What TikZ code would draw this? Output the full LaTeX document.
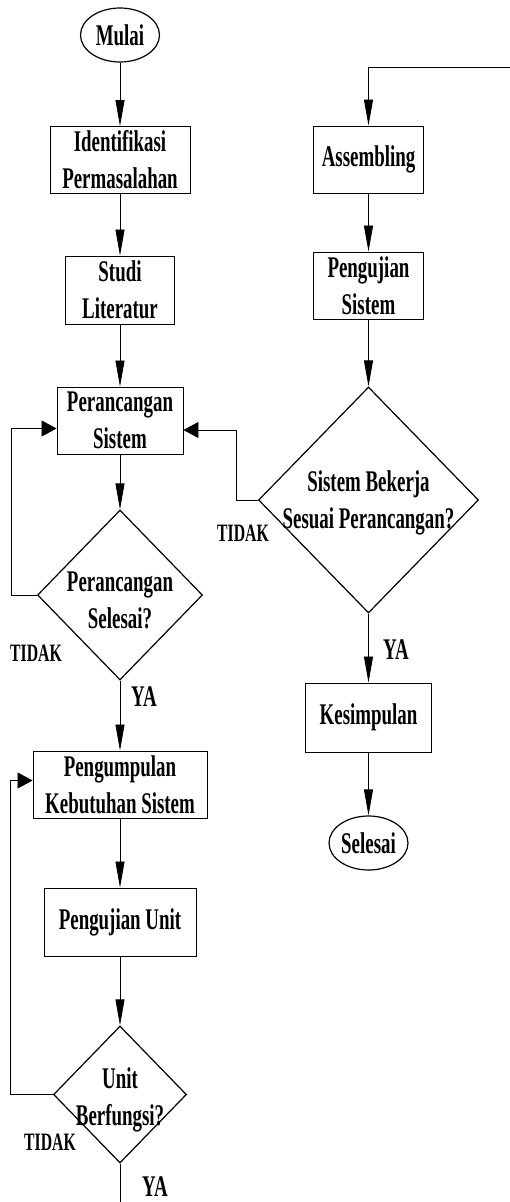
\documentclass[tikz,border=0pt]{standalone}
\usepackage{fontspec}
\setmainfont[FakeStretch=0.63]{Liberation Serif}
\usetikzlibrary{shapes.geometric,arrows.meta}

\tikzset{
  tulis/.style={font=\fontsize{30}{37}\selectfont\bfseries,align=center},
  kotak/.style={tulis,draw,line width=0.9pt,inner sep=0pt},
  elips/.style={tulis,draw,ellipse,line width=1.2pt,inner sep=0pt},
  belah/.style={draw,diamond,line width=1.2pt,inner sep=0pt},
  ket/.style={font=\fontsize{25}{25}\selectfont\bfseries},
  ya/.style={font=\fontsize{30}{30}\selectfont\bfseries},
  garis/.style={line width=0.8pt},
  panah/.style={garis,-{Triangle[length=26pt,width=9pt]}},
  panahh/.style={garis,-{Triangle[length=15pt,width=16pt]}},
}

\begin{document}
\begin{tikzpicture}[x=1pt,y=-1pt]
  \useasboundingbox (0,0) rectangle (510,1202);

  % kolom kiri
  \node[elips,minimum width=79pt,minimum height=54pt] (mulai) at (120,35) {Mulai};
  \node[kotak,minimum width=140pt,minimum height=67pt] (ident) at (120,160) {Identifikasi\\Permasalahan};
  \node[kotak,minimum width=109pt,minimum height=68pt] (studi) at (120,290) {Studi\\Literatur};
  \node[kotak,minimum width=126pt,minimum height=67pt] (rancang) at (120,420.5) {Perancangan\\Sistem};
  \node[belah,minimum width=165pt,minimum height=170pt] (cek1) at (120,595) {};
  \node[tulis] (tcek1) at (120,600) {Perancangan\\Selesai?};
  \node[kotak,minimum width=174pt,minimum height=67pt] (kumpul) at (120,784.5) {Pengumpulan\\Kebutuhan Sistem};
  \node[kotak,minimum width=152pt,minimum height=68pt] (ujiunit) at (120,922) {Pengujian Unit};
  \node[belah,minimum width=133pt,minimum height=137pt] (cek3) at (120,1094.5) {};
  \node[tulis] (tcek3) at (120,1100) {Unit\\Berfungsi?};
  \coordinate (bawah) at (120,1202);

  % kolom kanan
  \coordinate (atas) at (510,67);
  \node[kotak,minimum width=110pt,minimum height=67pt] (rakit) at (368.5,159.5) {Assembling};
  \node[kotak,minimum width=110pt,minimum height=67pt] (ujisis) at (368.5,285.5) {Pengujian\\Sistem};
  \node[belah,minimum width=220pt,minimum height=226pt] (cek2) at (368.5,500) {};
  \node[tulis] (tcek2) at (368.5,503) {Sistem Bekerja\\Sesuai Perancangan?};
  \node[kotak,minimum width=126pt,minimum height=69pt] (simpul) at (368.5,717.5) {Kesimpulan};
  \node[elips,minimum width=79pt,minimum height=54pt] (selesai) at (368.5,843) {Selesai};

  % label
  \node[ket] (tidak1) at (36,653) {TIDAK};
  \node[ket] (tidak2) at (243,533) {TIDAK};
  \node[ket] (tidak3) at (50,1142) {TIDAK};
  \node[ya] (ya1) at (144,697) {YA};
  \node[ya] (ya2) at (396,650) {YA};
  \node[ya] (ya3) at (155,1187) {YA};

  % alur
  \draw[panah] (mulai) -- (ident);
  \draw[panah] (ident) -- (studi);
  \draw[panah] (studi) -- (rancang);
  \draw[panah] (rancang) -- (cek1);
  \draw[panahh] (cek1.west) -- ++(-26,0) |- ([yshift=-8pt]rancang.west);
  \draw[panah] (cek1.south) -- (kumpul.north);
  \draw[panah] (kumpul) -- (ujiunit);
  \draw[panah] (ujiunit) -- (cek3);
  \draw[panahh] (cek3.west) -- ++(-42.5,0) |- ([yshift=4pt]kumpul.west);
  \draw[garis] (cek3.south) -- (bawah);
  \draw[panah] (atas) -| (rakit.north);
  \draw[panah] (rakit) -- (ujisis);
  \draw[panah] (ujisis) -- (cek2);
  \draw[panahh] (cek2.west) -- ++(-22,0) |- ([yshift=-9.5pt]rancang.east);
  \draw[panah] (cek2.south) -- (simpul.north);
  \draw[panah] (simpul) -- (selesai);
\end{tikzpicture}
\end{document}
